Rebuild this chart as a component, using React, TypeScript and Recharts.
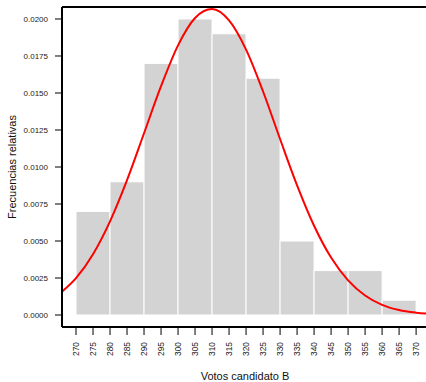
import React from 'react'
import {
  Bar,
  ComposedChart,
  Line,
  ReferenceLine,
  XAxis,
  YAxis,
} from 'recharts'

// histogram bins (midpoints) and their relative frequencies
const binMids = [275, 285, 295, 305, 315, 325, 335, 345, 355, 365]
const relFreq = [0.007, 0.009, 0.017, 0.02, 0.019, 0.016, 0.005, 0.003, 0.003, 0.001]

// fitted density
const curveX = [
  265, 270, 275, 280, 285, 290, 295, 300, 305, 310, 315, 320,
  325, 330, 335, 340, 345, 350, 355, 360, 365, 370, 375,
]
const curveY = [
  0.00141, 0.00249, 0.00411, 0.00633, 0.00911, 0.01228, 0.01546, 0.01822,
  0.02007, 0.02067, 0.0199, 0.01793, 0.0151, 0.01189, 0.00876, 0.00603,
  0.00388, 0.00234, 0.00132, 0.00069, 0.00034, 0.00016, 0.00006,
]

const xTicks = [
  270, 275, 280, 285, 290, 295, 300, 305, 310, 315, 320, 325, 330, 335,
  340, 345, 350, 355, 360, 365, 370,
]
const yTicks = [0, 0.0025, 0.005, 0.0075, 0.01, 0.0125, 0.015, 0.0175, 0.02]

const xDomain: [number, number] = [265.88, 373.5]
const yDomain: [number, number] = [-0.00081, 0.02081]

const bins = binMids.map((m, i) => ({ mid: m, freq: relFreq[i] }))
const curve = curveX.map((x, i) => ({ x, dens: curveY[i] }))

const FONT = '"Liberation Sans", Arial, Helvetica, sans-serif'

const XTick = (props: any) => {
  const { x, y, payload } = props
  return (
    <text
      x={0}
      y={0}
      transform={`translate(${x},${y + 5}) rotate(-90)`}
      textAnchor="end"
      dy="0.35em"
      fontSize={8.4}
      fontFamily={FONT}
      fill="#1a1a1a"
    >
      {payload.value}
    </text>
  )
}

export default function App() {
  return (
    <div
      style={{
        position: 'absolute',
        left: 0,
        top: 0,
        width: 426,
        height: 382,
        overflow: 'hidden',
        background: '#fff',
      }}
    >
      <ComposedChart
        width={428}
        height={382}
        data={bins}
        margin={{ top: 7, right: 0, bottom: 0, left: 0 }}
        barCategoryGap={0}
        barGap={0}
      >
        <XAxis
          dataKey="mid"
          type="number"
          domain={xDomain}
          allowDataOverflow
          ticks={xTicks}
          interval={0}
          height={55}
          tick={<XTick />}
          tickSize={8}
          tickLine={{ stroke: '#000', strokeWidth: 1 }}
          axisLine={{ stroke: '#000', strokeWidth: 2 }}
          label={{
            value: 'Votos candidato B',
            position: 'insideBottom',
            offset: 2,
            fontSize: 11,
            fontFamily: FONT,
            fill: '#111',
          }}
        />
        <XAxis
          xAxisId="curve"
          dataKey="x"
          type="number"
          domain={xDomain}
          allowDataOverflow
          hide
        />
        <YAxis
          type="number"
          domain={yDomain}
          allowDataOverflow
          ticks={yTicks}
          interval={0}
          width={62}
          tickSize={7}
          tickMargin={7}
          tickFormatter={(v: number) => v.toFixed(4)}
          tick={{ fontSize: 8, fontFamily: FONT, fill: '#1a1a1a' }}
          tickLine={{ stroke: '#000', strokeWidth: 1 }}
          axisLine={{ stroke: '#000', strokeWidth: 2 }}
          label={{
            content: ({ viewBox }: any) => (
              <text
                x={0}
                y={0}
                transform={`translate(${viewBox.x + 12},${viewBox.y + viewBox.height / 2}) rotate(-90)`}
                textAnchor="middle"
                dominantBaseline="central"
                fontSize={11}
                fontFamily={FONT}
                fill="#111"
              >
                Frecuencias relativas
              </text>
            ),
          }}
        />
        <ReferenceLine y={yDomain[1]} stroke="#000" strokeWidth={2} />
        <Bar
          dataKey="freq"
          fill="#d3d3d3"
          stroke="#fff"
          strokeWidth={1}
          isAnimationActive={false}
        />
        <Line
          data={curve}
          xAxisId="curve"
          dataKey="dens"
          type="monotone"
          stroke="#ff0000"
          strokeWidth={2}
          dot={false}
          activeDot={false}
          isAnimationActive={false}
        />
      </ComposedChart>
    </div>
  )
}
